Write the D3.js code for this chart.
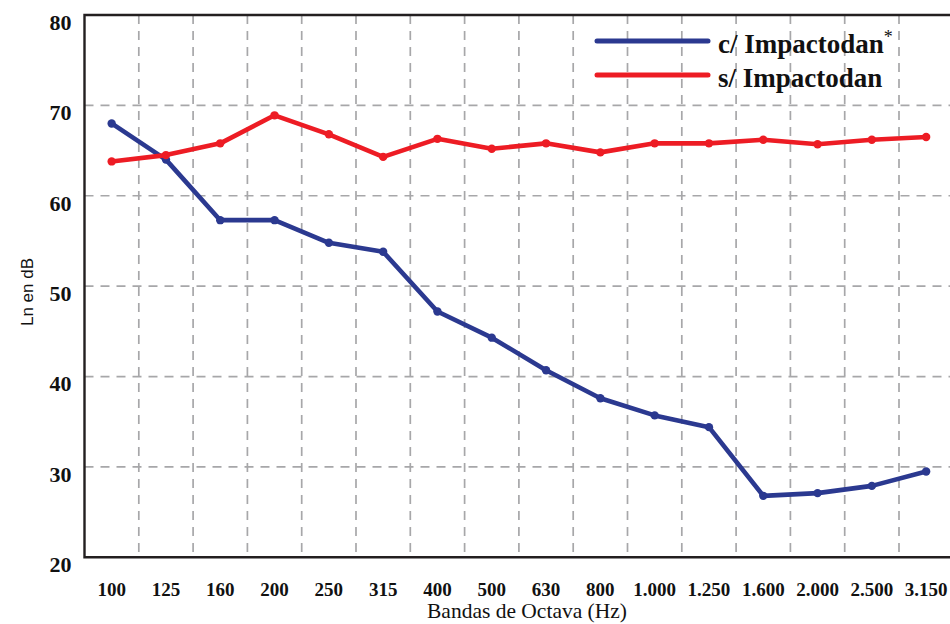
<!DOCTYPE html>
<html>
<head>
<meta charset="utf-8">
<script src="https://cdn.jsdelivr.net/npm/d3@7"></script>
<style>
  body { margin: 0; background: #fff; }
  svg { display: block; }
</style>
</head>
<body>
<div id="chart"></div>
<script>
// octave bands (Hz) and measured Ln (dB)
const bands = ["100", "125", "160", "200", "250", "315", "400", "500", "630", "800",
               "1.000", "1.250", "1.600", "2.000", "2.500", "3.150"];
const conImpactodan = [68, 64, 57.3, 57.3, 54.8, 53.8, 47.2, 44.3, 40.7, 37.6,
                       35.7, 34.4, 26.8, 27.1, 27.9, 29.5];
const sinImpactodan = [63.8, 64.5, 65.8, 68.9, 66.8, 64.3, 66.3, 65.2, 65.8, 64.8,
                       65.8, 65.8, 66.2, 65.7, 66.2, 66.5];
const yTicks = [20, 30, 40, 50, 60, 70, 80];
const seriesNames = ["c/ Impactodan", "s/ Impactodan"];
const seriesColors = ["#2b3990", "#ed1c24"];

const width = 950, height = 624;
const plot = {left: 84.5, right: 953.3, top: 15, bottom: 557.3};

const svg = d3.select("#chart").append("svg")
  .attr("width", width)
  .attr("height", height);

const x = d3.scaleBand()
  .domain(bands)
  .range([plot.left, plot.right])
  .padding(0);

const y = d3.scaleLinear()
  .domain([20, 80])
  .range([plot.bottom, plot.top]);

const cx = d => x(d) + x.bandwidth() / 2;

// dashed grid
const grid = svg.append("g")
  .attr("stroke", "#a7a7a9")
  .attr("stroke-width", 1.7)
  .attr("stroke-dasharray", "9,7");

grid.selectAll("line.h")
  .data(yTicks.filter(t => t > 20 && t < 80))
  .join("line")
  .attr("class", "h")
  .attr("x1", plot.left)
  .attr("x2", width)
  .attr("y1", d => y(d))
  .attr("y2", d => y(d));

grid.selectAll("line.v")
  .data(bands)
  .join("line")
  .attr("class", "v")
  .attr("x1", d => x(d) + x.bandwidth())
  .attr("x2", d => x(d) + x.bandwidth())
  .attr("y1", plot.top)
  .attr("y2", plot.bottom);

// frame: left, top, bottom (right side is cropped)
const frame = svg.append("g")
  .attr("stroke", "#231f20")
  .attr("stroke-width", 2.4)
  .attr("fill", "none");
frame.append("path")
  .attr("d", `M${width},${plot.top}H${plot.left}V${plot.bottom}H${width}`);

// y axis labels
const yAxis = d3.axisLeft(y).tickValues(yTicks).tickSize(0).tickPadding(13);
svg.append("g")
  .attr("transform", `translate(${plot.left},0)`)
  .call(yAxis)
  .call(g => g.select(".domain").remove())
  .selectAll("text")
  .attr("font-family", "'Liberation Serif', serif")
  .attr("font-weight", "bold")
  .attr("font-size", 22)
  .attr("fill", "#111")
  .attr("dy", "0.65em");

// x axis labels
const xAxis = d3.axisBottom(x).tickSize(0).tickPadding(25);
svg.append("g")
  .attr("transform", `translate(0,${plot.bottom})`)
  .call(xAxis)
  .call(g => g.select(".domain").remove())
  .selectAll("text")
  .attr("font-family", "'Liberation Serif', serif")
  .attr("font-weight", "bold")
  .attr("font-size", 19)
  .attr("fill", "#111");

// axis titles
svg.append("text")
  .attr("x", 527)
  .attr("y", 618)
  .attr("text-anchor", "middle")
  .attr("font-family", "'Liberation Serif', serif")
  .attr("font-size", 21.5)
  .attr("fill", "#111")
  .text("Bandas de Octava (Hz)");

svg.append("text")
  .attr("transform", "translate(33,292) rotate(-90)")
  .attr("text-anchor", "middle")
  .attr("font-family", "'Liberation Sans', Arial, sans-serif")
  .attr("font-size", 17)
  .attr("fill", "#111")
  .text("Ln en dB");

// series
const line = d3.line()
  .x((d, i) => cx(bands[i]))
  .y(d => y(d));

[conImpactodan, sinImpactodan].forEach((values, k) => {
  const g = svg.append("g");
  g.append("path")
    .attr("d", line(values))
    .attr("fill", "none")
    .attr("stroke", seriesColors[k])
    .attr("stroke-width", 4.6)
    .attr("stroke-linejoin", "round");
  g.selectAll("circle")
    .data(values)
    .join("circle")
    .attr("cx", (d, i) => cx(bands[i]))
    .attr("cy", d => y(d))
    .attr("r", 4.2)
    .attr("fill", seriesColors[k]);
});

// legend
const legend = svg.append("g")
  .attr("font-family", "'Liberation Serif', serif")
  .attr("font-weight", "bold")
  .attr("font-size", 27)
  .attr("fill", "#111");

seriesNames.forEach((name, k) => {
  const ly = 41 + k * 34;
  legend.append("line")
    .attr("x1", 597).attr("x2", 708)
    .attr("y1", ly).attr("y2", ly)
    .attr("stroke", seriesColors[k])
    .attr("stroke-width", 5)
    .attr("stroke-linecap", "round");
  const t = legend.append("text")
    .attr("x", 718)
    .attr("y", ly + 12)
    .text(name);
  if (k === 0) {
    t.append("tspan")
      .attr("font-size", 18)
      .attr("font-weight", "normal")
      .attr("dy", -10)
      .text("*");
  }
});
</script>
</body>
</html>
